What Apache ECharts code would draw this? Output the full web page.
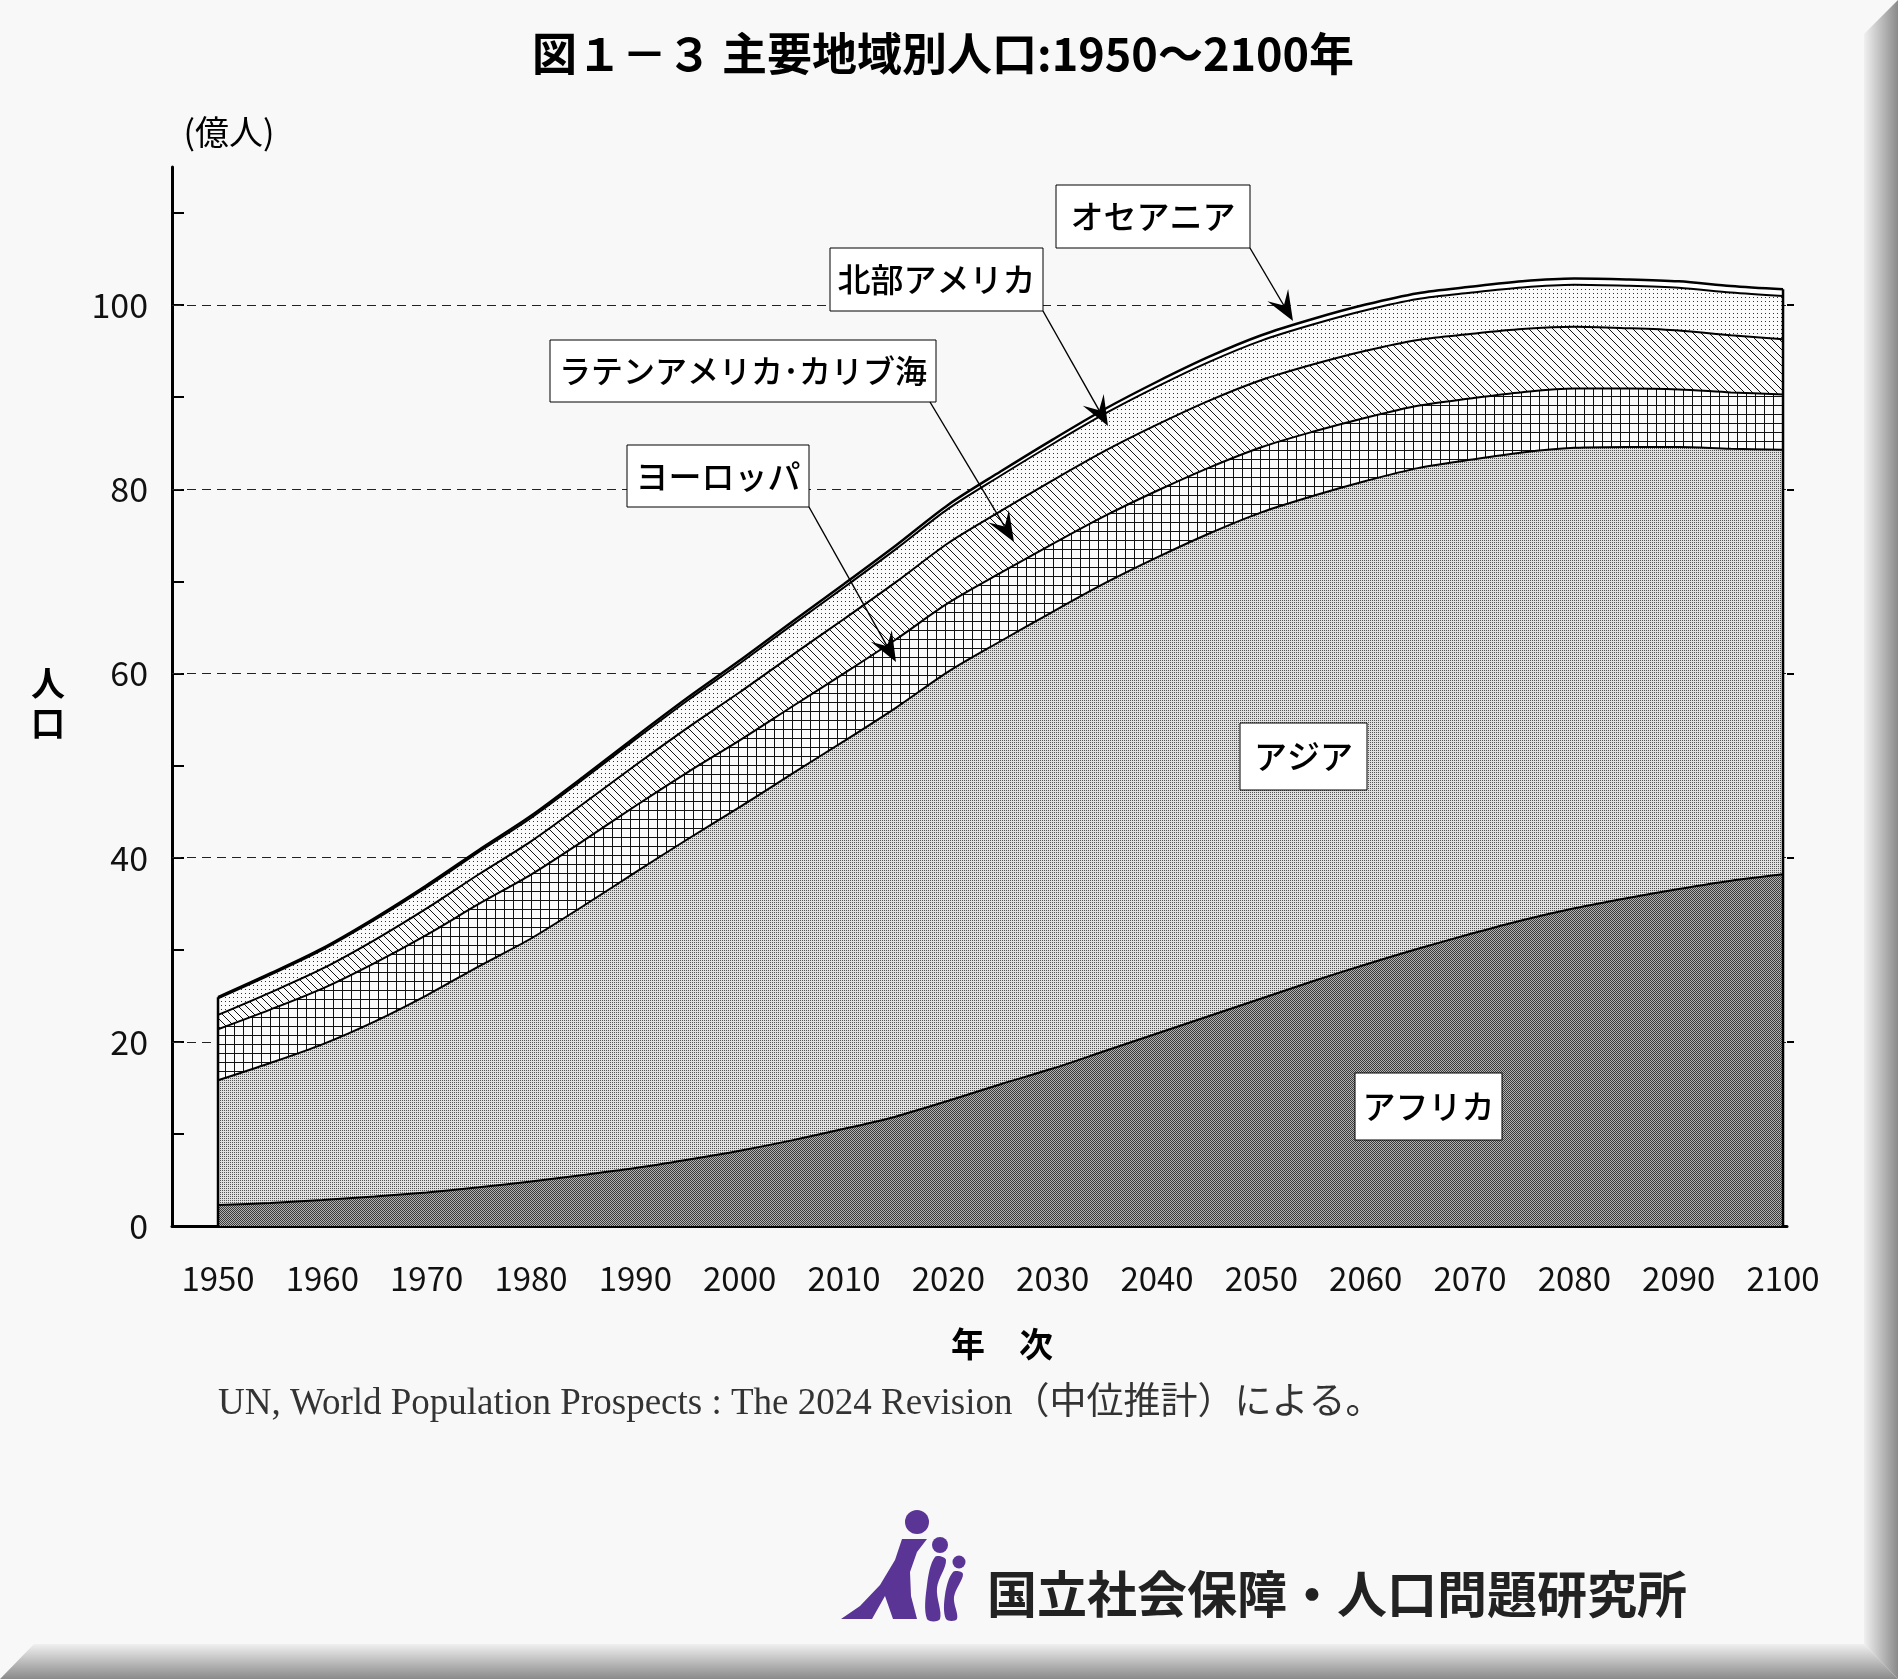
<!DOCTYPE html>
<html>
<head>
<meta charset="utf-8">
<script src="https://cdn.jsdelivr.net/npm/echarts@6/dist/echarts.min.js"></script>
<style>
html,body{margin:0;padding:0;background:#f8f8f8;}
#chart{width:1898px;height:1679px;}
</style>
</head>
<body>
<div id="chart"></div>
<script>
// 年次（5年おき）
var years = [1950,1955,1960,1965,1970,1975,1980,1985,1990,1995,2000,2005,2010,2015,2020,2025,
             2030,2035,2040,2045,2050,2055,2060,2065,2070,2075,2080,2085,2090,2095,2100];
// 地域別人口（億人）
var africa = [2.27,2.5,2.83,3.2,3.65,4.2,4.82,5.55,6.3,7.2,8.18,9.3,10.55,11.9,13.6,15.4,
              17.1,19.0,20.9,22.8,24.7,26.6,28.4,30.1,31.7,33.2,34.5,35.6,36.6,37.5,38.2];
var asia = [13.55,15.2,16.9,19.0,21.4,24.0,26.4,29.2,32.1,34.8,37.3,39.8,42.1,44.4,46.6,48.1,
            49.6,50.8,51.7,52.4,52.8,52.7,52.5,52.2,51.5,50.8,50.0,49.0,48.0,46.9,46.1];
var europe = [5.55,5.8,6.05,6.35,6.57,6.77,6.93,7.07,7.21,7.27,7.26,7.29,7.36,7.42,7.46,7.42,
              7.37,7.31,7.24,7.16,7.07,6.97,6.87,6.77,6.66,6.55,6.45,6.35,6.25,6.12,6.0];
var latinAmerica = [1.55,1.85,2.16,2.5,2.87,3.23,3.62,4.03,4.43,4.83,5.22,5.58,5.91,6.23,6.51,6.7,
                    6.9,7.06,7.18,7.27,7.3,7.31,7.28,7.15,7.0,6.85,6.7,6.55,6.4,6.2,6.0];
var northAmerica = [1.8,1.93,2.05,2.19,2.31,2.42,2.54,2.66,2.8,2.97,3.13,3.28,3.43,3.58,3.73,3.85,
                    3.95,4.04,4.13,4.21,4.28,4.34,4.39,4.44,4.48,4.52,4.56,4.6,4.63,4.66,4.7];
var oceania = [0.13,0.14,0.16,0.18,0.2,0.21,0.23,0.25,0.27,0.29,0.31,0.34,0.37,0.4,0.43,0.46,
               0.48,0.51,0.53,0.56,0.58,0.6,0.62,0.64,0.65,0.67,0.68,0.69,0.7,0.71,0.72];

// 目盛
var xLabelYears = [1950,1960,1970,1980,1990,2000,2010,2020,2030,2040,2050,2060,2070,2080,2090,2100];
var yTicks = [0,10,20,30,40,50,60,70,80,90,100,110];
var yLabels = [0,20,40,60,80,100];
var gridValues = [20,40,60,80,100];

var FONT = '"Noto Sans CJK JP", "Noto Sans", sans-serif';

// 網掛けパターン
function makePattern(size, draw) {
  var c = document.createElement('canvas');
  c.width = size; c.height = size;
  var g = c.getContext('2d');
  draw(g, size);
  return { image: c, repeat: 'repeat' };
}
var patAfrica = makePattern(2, function (g) {
  g.fillStyle = '#b2b2b2'; g.fillRect(0, 0, 2, 2);
  g.fillStyle = '#3a3a3a'; g.fillRect(0, 0, 1, 1); g.fillRect(1, 1, 1, 1);
});
var patAsia = makePattern(2, function (g) {
  g.fillStyle = '#e0e0e0'; g.fillRect(0, 0, 2, 2);
  g.fillStyle = '#555555'; g.fillRect(0, 0, 1, 1);
});
var patEurope = makePattern(9, function (g, s) {
  g.fillStyle = '#fbfbfb'; g.fillRect(0, 0, s, s);
  g.fillStyle = '#111'; g.fillRect(0, 0, s, 1); g.fillRect(0, 0, 1, s);
});
var patLatin = makePattern(8, function (g, s) {
  g.fillStyle = '#fbfbfb'; g.fillRect(0, 0, s, s);
  g.fillStyle = '#111';
  for (var i = 0; i < s; i++) g.fillRect(i, i, 1, 1);
});
var patNorth = makePattern(4, function (g, s) {
  g.fillStyle = '#fbfbfb'; g.fillRect(0, 0, s, s);
  g.fillStyle = '#333'; g.fillRect(1, 1, 1, 1);
});

// 積み上げ（下から順に累計）
var layers = [
  { name: 'アフリカ', values: africa, fill: patAfrica },
  { name: 'アジア', values: asia, fill: patAsia },
  { name: 'ヨーロッパ', values: europe, fill: patEurope },
  { name: 'ラテンアメリカ・カリブ海', values: latinAmerica, fill: patLatin },
  { name: '北部アメリカ', values: northAmerica, fill: patNorth },
  { name: 'オセアニア', values: oceania, fill: '#ffffff' }
];
var running = years.map(function () { return 0; });
layers.forEach(function (l) {
  running = running.map(function (v, i) { return v + l.values[i]; });
  l.cum = running.slice();
});
var totals = running;
var last = years.length - 1;

// 上の層から先に描き、下の層を重ねる
var areaSeriesList = layers.slice().reverse().map(function (l) {
  return {
    name: l.name, type: 'line', symbol: 'none', smooth: 0.3, z: 2,
    data: years.map(function (y, i) { return [y, l.cum[i]]; }),
    lineStyle: { color: '#000', width: l.name === 'オセアニア' ? 2.5 : 2 },
    areaStyle: { color: l.fill, opacity: 1, origin: 'start' }
  };
});

// 注記ボックス
function labelBox(text, x, y, w, h, fs) {
  return {
    type: 'group', z: 100,
    children: [
      { type: 'rect', z: 100, shape: { x: x, y: y, width: w, height: h },
        style: { fill: '#fff', stroke: '#000', lineWidth: 1 } },
      { type: 'text', z: 101, x: x + w / 2, y: y + h / 2,
        style: { text: text, fill: '#000', font: '500 ' + (fs || 33) + 'px ' + FONT, align: 'center', verticalAlign: 'middle' } }
    ]
  };
}
function arrow(x1, y1, x2, y2) {
  var dx = x2 - x1, dy = y2 - y1, len = Math.sqrt(dx * dx + dy * dy);
  var ux = dx / len, uy = dy / len, nx = -uy, ny = ux;
  var L = 30, W = 12, N = 18;
  return {
    type: 'group', z: 100,
    children: [
      { type: 'line', z: 100, shape: { x1: x1, y1: y1, x2: x2 - ux * N, y2: y2 - uy * N },
        style: { stroke: '#000', lineWidth: 1.4 } },
      { type: 'polygon', z: 100, shape: { points: [
          [x2, y2],
          [x2 - ux * L + nx * W, y2 - uy * L + ny * W],
          [x2 - ux * N, y2 - uy * N],
          [x2 - ux * L - nx * W, y2 - uy * L - ny * W]
        ] }, style: { fill: '#000' } }
    ]
  };
}

var chart = echarts.init(document.getElementById('chart'), null, { renderer: 'canvas' });
var PURPLE = '#5a3596';

var option = {
  backgroundColor: '#f8f8f8',
  animation: false,
  textStyle: { fontFamily: FONT },
  grid: { left: 172, right: 111, top: 167, bottom: 453 },
  xAxis: {
    type: 'value', min: 1945.59, max: 2100.38,
    axisLine: { lineStyle: { color: '#000', width: 3 } },
    axisTick: { inside: true, length: 18, customValues: years, lineStyle: { color: '#000', width: 2 } },
    axisLabel: { customValues: xLabelYears, margin: 36, fontSize: 33, color: '#111', fontFamily: FONT,
      formatter: function (v) { return String(v); } },
    splitLine: { show: false }
  },
  yAxis: [{
    type: 'value', min: 0, max: 115, interval: 10,
    axisLine: { show: true, lineStyle: { color: '#000', width: 3 } },
    axisTick: { show: true, inside: true, length: 12, customValues: yTicks, lineStyle: { color: '#000', width: 2 } },
    axisLabel: { customValues: yLabels, margin: 24, fontSize: 34, color: '#111', fontFamily: FONT },
    splitLine: { show: false }
  }, {
    type: 'value', min: 0, max: 115, interval: 10, position: 'right',
    axisLine: { show: false },
    axisTick: { show: true, inside: false, length: 7, customValues: gridValues, lineStyle: { color: '#000', width: 2 } },
    axisLabel: { show: false },
    splitLine: { show: false }
  }],
  series: [
    {
      name: 'grid', type: 'line', data: [], z: 1,
      markLine: {
        z: 1, silent: true, symbol: 'none', label: { show: false },
        lineStyle: { color: '#222', type: [9, 6], width: 1.2 },
        data: gridValues.map(function (v) { return { yAxis: v }; })
      }
    }
  ].concat(areaSeriesList).concat([
    {
      name: 'edge', type: 'line', symbol: 'none', z: 3, connectNulls: false,
      lineStyle: { color: '#000', width: 2.5 },
      data: [[years[0], 0], [years[0], totals[0]], '-', [years[last], 0], [years[last], totals[last]]]
    }
  ]),
  graphic: [
    // 枠の影
    { type: 'polygon', z: 0, silent: true,
      shape: { points: [[1864, 34], [1898, 0], [1898, 1679], [1864, 1644]] },
      style: { fill: new echarts.graphic.LinearGradient(0, 0, 1, 0, [
        { offset: 0, color: '#f0f0f0' }, { offset: 1, color: '#8a8a8a' }]) } },
    { type: 'polygon', z: 0, silent: true,
      shape: { points: [[0, 1679], [34, 1644], [1864, 1644], [1898, 1679]] },
      style: { fill: new echarts.graphic.LinearGradient(0, 0, 0, 1, [
        { offset: 0, color: '#f0f0f0' }, { offset: 1, color: '#8a8a8a' }]) } },
    // タイトル
    { type: 'text', x: 943, y: 54, z: 50,
      style: { text: '図１－３ 主要地域別人口:1950～2100年', fill: '#000',
        font: 'bold 45px ' + FONT, align: 'center', verticalAlign: 'middle' } },
    { type: 'text', x: 229, y: 132, z: 50,
      style: { text: '(億人)', fill: '#000', font: '34px ' + FONT, align: 'center', verticalAlign: 'middle' } },
    { type: 'text', x: 48, y: 703, z: 50,
      style: { text: '人\n口', fill: '#000', font: 'bold 34px ' + FONT, lineHeight: 40,
        align: 'center', verticalAlign: 'middle' } },
    { type: 'text', x: 1002, y: 1344, z: 50,
      style: { text: '年　次', fill: '#000', font: 'bold 34px ' + FONT, align: 'center', verticalAlign: 'middle' } },
    { type: 'text', x: 218, y: 1404, z: 50,
      style: { text: 'UN, World Population Prospects : The 2024 Revision（中位推計）による。', fill: '#333',
        font: '37px "Liberation Serif", "Noto Sans CJK JP", serif', align: 'left', verticalAlign: 'middle' } },
    // 注記
    labelBox('オセアニア', 1056, 185, 194, 63),
    arrow(1250, 248, 1293, 321),
    labelBox('北部アメリカ', 830, 248, 213, 63),
    arrow(1043, 311, 1108, 426),
    labelBox('ラテンアメリカ･カリブ海', 550, 340, 386, 62, 32),
    arrow(930, 402, 1014, 542),
    labelBox('ヨーロッパ', 627, 445, 182, 62),
    arrow(809, 507, 896, 662),
    labelBox('アジア', 1240, 723, 127, 67),
    labelBox('アフリカ', 1355, 1073, 147, 67),
    // ロゴ
    { type: 'group', z: 50, children: [
      { type: 'circle', z: 50, shape: { cx: 917, cy: 1522, r: 12 }, style: { fill: PURPLE } },
      { type: 'circle', z: 50, shape: { cx: 940, cy: 1545, r: 8 }, style: { fill: PURPLE } },
      { type: 'circle', z: 50, shape: { cx: 959, cy: 1562, r: 6.5 }, style: { fill: PURPLE } },
      { type: 'polygon', z: 50, shape: { points: [[841, 1619], [872, 1619], [885, 1596], [893, 1619], [917, 1619],
          [911, 1596], [910, 1572], [917, 1552], [927, 1539], [902, 1539], [895, 1560], [880, 1585], [860, 1606]] },
        style: { fill: PURPLE } },
      { type: 'polygon', z: 50, shape: { smooth: 0.35, points: [[935, 1557], [927, 1585], [927, 1619], [940, 1619],
          [937, 1588], [946, 1560]] },
        style: { fill: PURPLE } },
      { type: 'polygon', z: 50, shape: { smooth: 0.35, points: [[953, 1572], [945, 1595], [946, 1619], [957, 1619],
          [954, 1597], [963, 1574]] },
        style: { fill: PURPLE } }
    ] },
    { type: 'text', x: 987, y: 1594, z: 50,
      style: { text: '国立社会保障・人口問題研究所', fill: '#222', font: 'bold 50px ' + FONT,
        align: 'left', verticalAlign: 'middle' } }
  ]
};

chart.setOption(option);
</script>
</body>
</html>
